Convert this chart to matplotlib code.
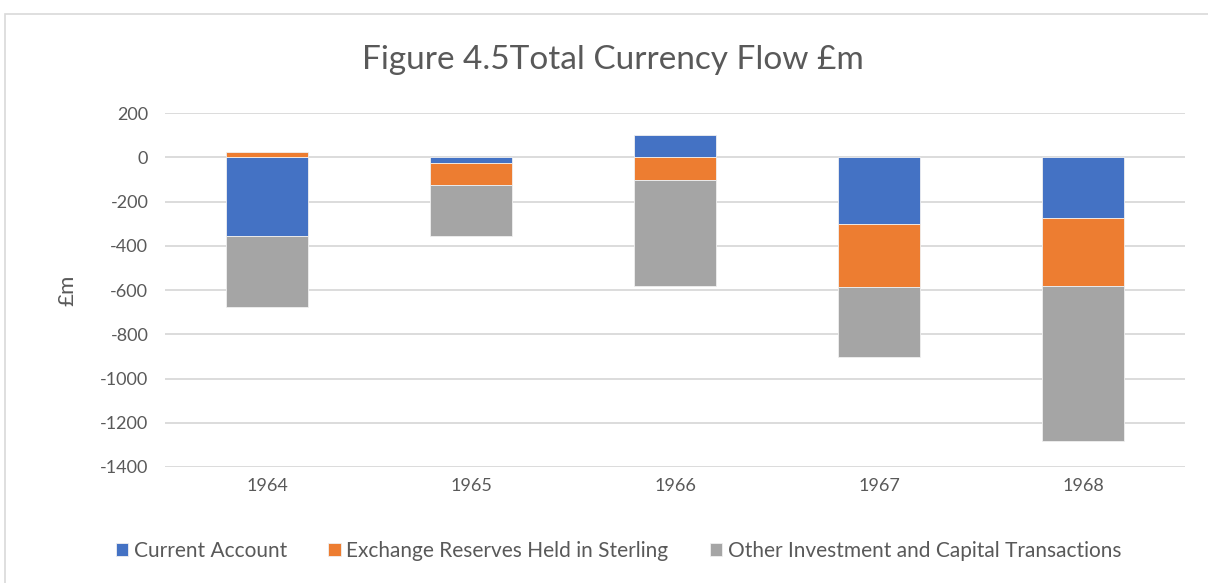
import numpy as np
import matplotlib.pyplot as plt
from matplotlib.patches import Rectangle

plt.rcParams['font.family'] = ['Lato', 'DejaVu Sans']
plt.rcParams['axes.unicode_minus'] = False

years = ['1964', '1965', '1966', '1967', '1968']
current_account = [-355, -24, 102, -300, -275]
exchange_reserves = [24, -101, -103, -287, -306]
other_investment = [-322, -228, -477, -315, -702]

series = [
    ('Current Account', current_account, '#4472C4'),
    ('Exchange Reserves Held in Sterling', exchange_reserves, '#ED7D31'),
    ('Other Investment and Capital Transactions', other_investment, '#A5A5A5'),
]

fig = plt.figure(figsize=(12.08, 5.83), dpi=100)
ax = fig.add_axes([0.1366, 0.199, 0.8444, 0.6067])

# chart area frame
fig.patches.append(Rectangle((5 / 1208, -0.1), 1.2, 1 - 14 / 583 + 0.1,
                             transform=fig.transFigure, fill=False,
                             edgecolor='#d9d9d9', linewidth=1.2))

x = np.arange(len(years))
pos_base = np.zeros(len(years))
neg_base = np.zeros(len(years))
for name, vals, col in series:
    v = np.array(vals, dtype=float)
    bottom = np.where(v >= 0, pos_base, neg_base)
    ax.bar(x, v, 0.4, bottom=bottom, color=col, label=name,
           edgecolor='#f0f0f0', linewidth=0.6, zorder=3)
    pos_base += np.where(v >= 0, v, 0)
    neg_base += np.where(v < 0, v, 0)

ax.set_xlim(-0.5, len(years) - 0.5)
ax.set_ylim(-1400, 200)
ax.set_yticks(np.arange(-1400, 201, 200))
ax.set_xticks(x)
ax.set_xticklabels(years)
ax.yaxis.grid(True, color='#d9d9d9', linewidth=1.3, zorder=0)
ax.tick_params(axis='both', length=0, labelsize=13, colors='#595959', pad=8)
ax.tick_params(axis='y', pad=12)
for s in ax.spines.values():
    s.set_visible(False)

ax.set_ylabel('£m', fontsize=16, color='#595959', labelpad=16)
fig.text(0.507, 0.897, 'Figure 4.5Total Currency Flow £m', ha='center', va='center',
         fontsize=24, color='#595959')

fig.legend(loc='center', bbox_to_anchor=(0.512, 0.055), ncol=3, frameon=False,
           fontsize=15, labelcolor='#595959', handlelength=0.6, handleheight=0.6,
           handletextpad=0.25, columnspacing=2.0)

fig.savefig('out.png', dpi=100)
